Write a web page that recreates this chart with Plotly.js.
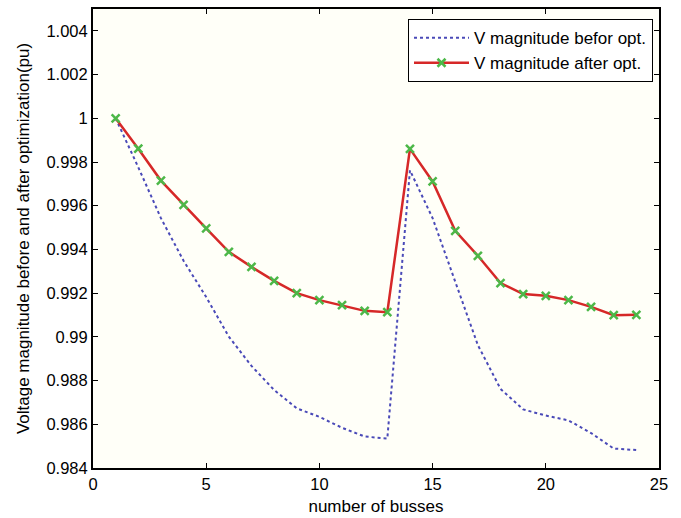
<!DOCTYPE html>
<html>
<head>
<meta charset="utf-8">
<script src="https://cdn.plot.ly/plotly-3.0.1.min.js"></script>
<style>html,body{margin:0;padding:0;background:#fff;}#chart{width:681px;height:518px;}</style>
</head>
<body>
<div id="chart"></div>
<script>
var buses = [1,2,3,4,5,6,7,8,9,10,11,12,13,14,15,16,17,18,19,20,21,22,23,24];
var vBefore = [1.0000,0.99776,0.99543,0.99348,0.99182,0.99001,0.98867,0.98757,0.98673,0.98634,0.98584,0.98544,0.98535,
               0.99762,0.99543,0.99250,0.98962,0.98762,0.98668,0.98640,0.98618,0.98560,0.98489,0.98482];
var vAfter = [1.0000,0.99861,0.99715,0.99604,0.99496,0.99389,0.99320,0.99256,0.99200,0.99168,0.99145,0.99119,0.99113,
              0.99860,0.99711,0.99485,0.99371,0.99246,0.99196,0.99188,0.99168,0.99137,0.99099,0.99101];
var yTickVals = [0.984,0.986,0.988,0.99,0.992,0.994,0.996,0.998,1,1.002,1.004];
var yTickText = ['0.984','0.986','0.988','0.99','0.992','0.994','0.996','0.998','1','1.002','1.004'];
var xTickVals = [0,5,10,15,20,25];

var tickFont = {family:'Liberation Sans, Arial, sans-serif', size:16.5, color:'#000'};
var font = {family:'Liberation Sans, Arial, sans-serif', size:17, color:'#000'};
var traces = [
  {x:buses, y:vBefore, mode:'lines', name:'V magnitude befor opt.',
   line:{color:'#4a4ab8', width:2, dash:'dot'}},
  {x:buses, y:vAfter, mode:'lines+markers', name:'V magnitude after opt.',
   line:{color:'#d62828', width:2.5},
   marker:{symbol:'x-thin', size:8, color:'#4cb848', line:{color:'#4cb848', width:2.5}}}
];
var layout = {
  width:681, height:518,
  margin:{l:93, r:22, t:9, b:50},
  paper_bgcolor:'#ffffff', plot_bgcolor:'#fffff8',
  font:font,
  showlegend:true,
  legend:{x:0.9894, y:0.978, xanchor:'right', yanchor:'top', bgcolor:'#ffffff',
          bordercolor:'#000', borderwidth:1, font:font, tracegroupgap:0, itemwidth:55},
  xaxis:{range:[0,25], tickvals:xTickVals, ticks:'inside', ticklen:5, tickwidth:1, tickcolor:'#000',
         showline:true, linecolor:'#000', linewidth:2, mirror:'ticks', showgrid:false, zeroline:false,
         title:{text:'number of busses', font:font, standoff:8}, tickfont:tickFont},
  yaxis:{range:[0.984,1.005], tickvals:yTickVals, ticktext:yTickText, ticks:'inside', ticklen:5, tickwidth:1, tickcolor:'#000',
         showline:true, linecolor:'#000', linewidth:2, mirror:'ticks', showgrid:false, zeroline:false,
         title:{text:'Voltage magnitude before and after optimization(pu)', font:font, standoff:12}, tickfont:tickFont}
};
Plotly.newPlot('chart', traces, layout, {staticPlot:true, displayModeBar:false});
</script>
</body>
</html>
